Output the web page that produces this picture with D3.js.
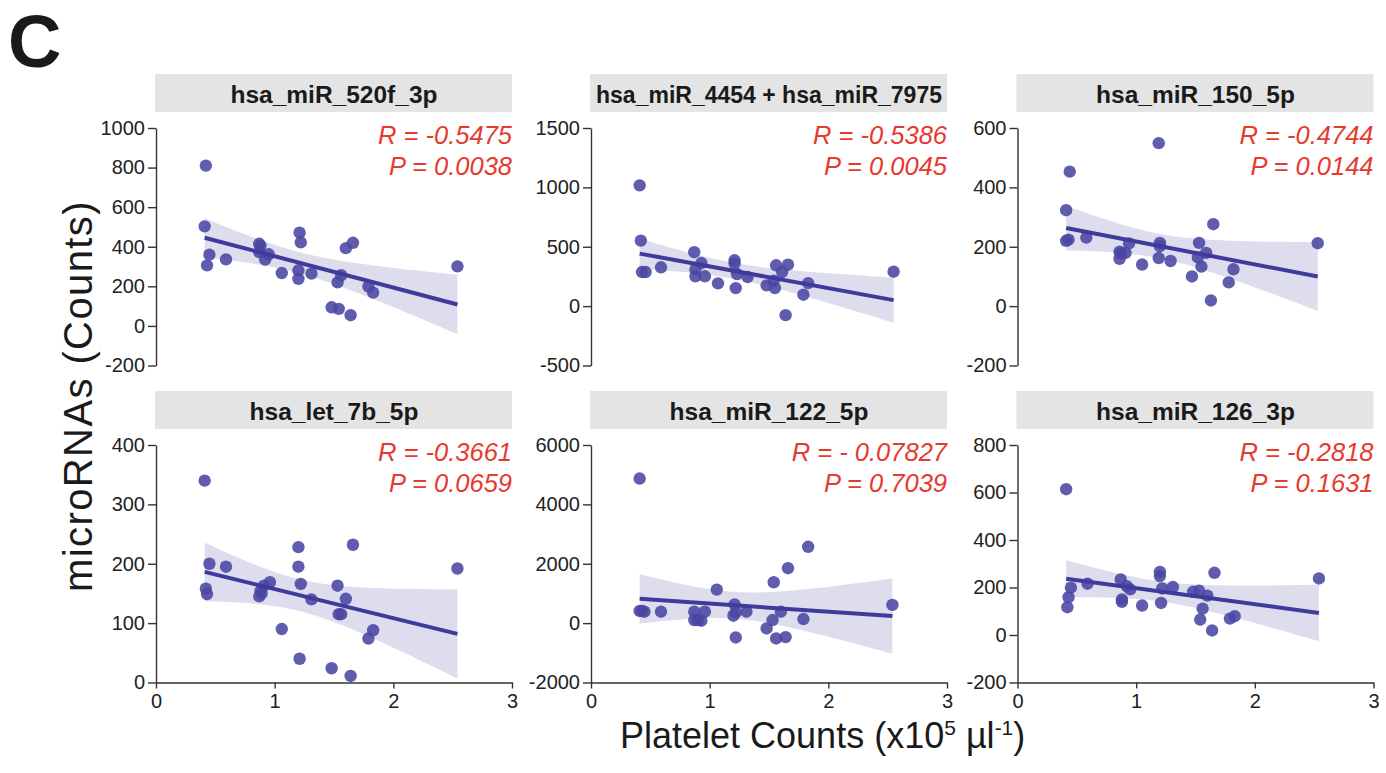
<!DOCTYPE html>
<meta charset="utf-8">
<title>microRNAs vs platelet counts</title>
<style>
body { margin: 0; background: #fff; }
svg text { font-family: "Liberation Sans", Arial, Helvetica, sans-serif; }
.axis .tick text { font-size: 20px; fill: #222; }
.axis path, .axis line { stroke: #333; stroke-width: 1.4px; }
</style>
<svg width="1386" height="773"></svg>
<script src="https://d3js.org/d3.v7.min.js"></script>
<script>

// panel titles and stats
var titles = ["hsa_miR_520f_3p", "hsa_miR_4454 + hsa_miR_7975", "hsa_miR_150_5p",
              "hsa_let_7b_5p", "hsa_miR_122_5p", "hsa_miR_126_3p"];
var rLabels = ["R = -0.5475", "R = -0.5386", "R = -0.4744", "R = -0.3661", "R = - 0.07827", "R = -0.2818"];
var pLabels = ["P = 0.0038", "P = 0.0045", "P = 0.0144", "P = 0.0659", "P = 0.7039", "P = 0.1631"];

// y tick labels per panel (first / last are the axis ends)
var yTicks = [
  [-200, 0, 200, 400, 600, 800, 1000],
  [-500, 0, 500, 1000, 1500],
  [-200, 0, 200, 400, 600],
  [0, 100, 200, 300, 400],
  [-2000, 0, 2000, 4000, 6000],
  [-200, 0, 200, 400, 600, 800]
];
var xTicks = [0, 1, 2, 3];

// platelet counts (x10^5 / ul) and microRNA counts
var x520f = [0.42,0.41,0.45,0.43,0.59,0.87,0.88,0.87,0.95,0.92,1.06,1.21,1.22,1.20,1.20,1.31,1.60,1.66,1.56,1.53,1.48,1.54,1.64,1.79,1.83,2.54];
var y520f = [810,503,360,306,336,415,405,373,362,335,267,471,422,281,238,264,393,420,256,220,94,86,54,199,168,301];

var x4454 = [0.41,0.42,0.43,0.46,0.59,0.87,0.88,0.88,0.93,0.96,1.07,1.21,1.21,1.23,1.22,1.32,1.48,1.54,1.55,1.56,1.61,1.66,1.64,1.79,1.83,2.55];
var y4454 = [1017,552,287,287,327,454,307,251,363,251,192,386,358,270,152,245,175,214,152,344,287,349,-76,96,194,290];

var x150 = [1.19,0.44,0.41,0.41,0.43,0.58,0.86,0.87,0.86,0.91,0.94,1.05,1.20,1.20,1.19,1.29,1.47,1.53,1.52,1.55,1.59,1.65,1.63,1.78,1.82,2.53];
var y150 = [549,453,323,220,224,231,183,177,159,179,211,140,213,202,162,152,100,213,164,133,179,276,19,80,124,212];

var xlet7b = [0.41,0.45,0.59,0.42,0.43,0.87,0.88,0.91,0.96,1.06,1.20,1.20,1.22,1.21,1.31,1.48,1.53,1.54,1.56,1.60,1.64,1.66,1.79,1.83,2.54,0.89];
var ylet7b = [340,200,195,158,149,145,154,163,169,90,228,195,166,40,140,24,163,115,115,141,11,232,74,88,192,150];

var x122 = [0.41,0.41,0.43,0.45,0.59,0.87,0.87,0.90,0.93,0.96,1.06,1.21,1.20,1.22,1.22,1.31,1.48,1.53,1.54,1.56,1.60,1.64,1.66,1.79,1.83,2.54];
var y122 = [4871,409,409,385,385,385,104,100,81,385,1129,632,250,362,-483,385,-179,104,1377,-517,385,-470,1850,138,2572,611];

var x126 = [0.41,0.42,0.43,0.45,0.59,0.87,0.88,0.88,0.92,0.95,1.05,1.20,1.20,1.22,1.21,1.31,1.48,1.53,1.60,1.56,1.54,1.64,1.66,1.79,1.83,2.54];
var y126 = [614,117,159,199,216,234,150,140,206,192,124,266,248,196,135,202,182,187,166,111,65,19,262,69,79,238];

var xs = [x520f, x4454, x150, xlet7b, x122, x126];
var ys = [y520f, y4454, y150, ylet7b, y122, y126];

var svg = d3.select("svg");

// layout
var colX = [156, 591, 1017.5],
    rowY = [128, 445],
    plotW = 356,
    plotH = 237.5;

var dotColor = "#4a47a3",
    lineColor = "#3e3b9c",
    redColor = "#e63a2e";

// plain hyphen for negatives, like the original
var fmt = function(d) { return String(d); };

// least squares fit + 95% CI of the mean
function fitLine(px, py) {
  var n = px.length,
      mx = d3.mean(px), my = d3.mean(py),
      sxx = 0, sxy = 0;
  for (var i = 0; i < n; i++) {
    sxx += (px[i] - mx) * (px[i] - mx);
    sxy += (px[i] - mx) * (py[i] - my);
  }
  var b = sxy / sxx, a = my - b * mx, sse = 0;
  for (var i = 0; i < n; i++) {
    var r = py[i] - (a + b * px[i]);
    sse += r * r;
  }
  var s = Math.sqrt(sse / (n - 2)), t = 2.064;
  return {
    at: function(x) { return a + b * x; },
    ci: function(x) { return t * s * Math.sqrt(1 / n + (x - mx) * (x - mx) / sxx); }
  };
}

// panel letter
svg.append("text")
  .attr("x", 8).attr("y", 67)
  .style("font-size", "74px").style("font-weight", "bold").attr("fill", "#1a1a1a")
  .text("C");

for (var k = 0; k < 6; k++) {
  var row = Math.floor(k / 3), col = k % 3;
  var g = svg.append("g")
    .attr("transform", "translate(" + colX[col] + "," + rowY[row] + ")");

  var x = d3.scaleLinear().domain([0, 3]).range([0, plotW]);
  var tk = yTicks[k];
  var y = d3.scaleLinear().domain([tk[0], tk[tk.length - 1]]).range([plotH, 0]);

  // strip
  g.append("rect")
    .attr("x", -1).attr("y", -54)
    .attr("width", plotW + 1).attr("height", 38)
    .attr("fill", "#e4e4e4");
  var st = g.append("text")
    .attr("x", plotW / 2).attr("y", -25)
    .attr("text-anchor", "middle")
    .style("font-size", "24.5px").style("font-weight", "bold").attr("fill", "#1a1a1a")
    .text(titles[k]);
  if (st.node().getComputedTextLength() > plotW - 12) {
    st.attr("textLength", plotW - 10).attr("lengthAdjust", "spacingAndGlyphs");
  }

  // regression band + line
  var px = xs[k], py = ys[k];
  var f = fitLine(px, py);
  var ext = d3.extent(px);
  var grid = d3.range(0, 61).map(function(i) { return ext[0] + (ext[1] - ext[0]) * i / 60; });

  g.append("path")
    .datum(grid)
    .attr("fill", "#5654a8").attr("fill-opacity", 0.2)
    .attr("d", d3.area()
      .x(function(d) { return x(d); })
      .y0(function(d) { return y(f.at(d) - f.ci(d)); })
      .y1(function(d) { return y(f.at(d) + f.ci(d)); }));

  g.selectAll("circle")
    .data(d3.range(px.length))
    .enter().append("circle")
    .attr("cx", function(i) { return x(px[i]); })
    .attr("cy", function(i) { return y(py[i]); })
    .attr("r", 6.2)
    .attr("fill", dotColor).attr("fill-opacity", 0.88);

  g.append("line")
    .attr("x1", x(ext[0])).attr("y1", y(f.at(ext[0])))
    .attr("x2", x(ext[1])).attr("y2", y(f.at(ext[1])))
    .attr("stroke", lineColor).attr("stroke-width", 4);

  // axes
  g.append("g")
    .attr("class", "axis")
    .call(d3.axisLeft(y).tickValues(tk).tickFormat(fmt)
      .tickSize(8).tickSizeOuter(0).tickPadding(3));

  if (row == 1) {
    g.append("g")
      .attr("class", "axis")
      .attr("transform", "translate(0," + plotH + ")")
      .call(d3.axisBottom(x).tickValues(xTicks).tickFormat(fmt)
        .tickSize(6).tickSizeOuter(0).tickPadding(5));
  }

  // stats
  g.append("text")
    .attr("x", plotW).attr("y", 16)
    .attr("text-anchor", "end")
    .style("font-size", "25.5px").style("font-style", "italic").attr("fill", redColor)
    .text(rLabels[k]);
  g.append("text")
    .attr("x", plotW).attr("y", 47)
    .attr("text-anchor", "end")
    .style("font-size", "25.5px").style("font-style", "italic").attr("fill", redColor)
    .text(pLabels[k]);
}

d3.selectAll(".axis .domain").attr("stroke", "#333");

// axis titles
svg.append("text")
  .attr("transform", "translate(92,396) rotate(-90)")
  .attr("text-anchor", "middle")
  .style("font-size", "40px").style("letter-spacing", "1.4px").attr("fill", "#1a1a1a")
  .text("microRNAs (Counts)");

var xl = svg.append("text")
  .attr("x", 620).attr("y", 748)
  .style("font-size", "36px").attr("fill", "#1a1a1a");
xl.append("tspan").text("Platelet Counts (x10");
xl.append("tspan").attr("dy", -13).style("font-size", "21px").text("5");
xl.append("tspan").attr("dy", 13).text(" \u00b5l");
xl.append("tspan").attr("dy", -13).style("font-size", "21px").text("-1");
xl.append("tspan").attr("dy", 13).text(")");

</script>
